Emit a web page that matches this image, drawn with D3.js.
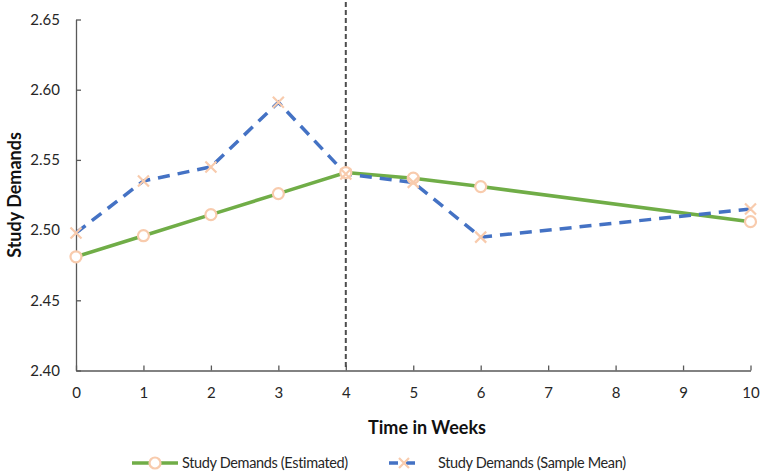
<!DOCTYPE html>
<html><head><meta charset="utf-8">
<script src="https://cdn.jsdelivr.net/npm/d3@7"></script>
<style>body{margin:0;background:#fff}svg{display:block;font-family:Lato,"Open Sans",sans-serif}</style>
</head><body><svg id="c" width="763" height="473"></svg>
<script>
const weeks = [0,1,2,3,4,5,6,10];
const estimated = [2.481,2.496,2.511,2.526,2.541,2.537,2.531,2.506];
const sampleMean = [2.498,2.535,2.545,2.591,2.540,2.534,2.495,2.515];
const xTicks = [0,1,2,3,4,5,6,7,8,9,10];
const yTicks = [2.40,2.45,2.50,2.55,2.60,2.65];
const seriesNames = ["Study Demands (Estimated)","Study Demands (Sample Mean)"];
const cutWeek = 4;

const svg = d3.select("#c");
const x = d3.scaleLinear().domain([0,10]).range([76,750.5]);
const y = d3.scaleLinear().domain([2.40,2.65]).range([370.5,19.5]);
const axisCol = "#595959", textCol = "#262626";

// axes
const gx = svg.append("g").attr("transform","translate(0,370.5)")
  .call(d3.axisBottom(x).tickValues(xTicks).tickSizeInner(-5).tickSizeOuter(0).tickPadding(17).tickFormat(d3.format("d")));
const gy = svg.append("g").attr("transform","translate(76,0)")
  .call(d3.axisLeft(y).tickValues(yTicks).tickSizeInner(-5).tickSizeOuter(0).tickPadding(16).tickFormat(d3.format(".2f")));
[gx,gy].forEach(g=>{
  g.selectAll("path,line").attr("stroke",axisCol).attr("stroke-width",1.3);
  g.selectAll("text").attr("fill",textCol).style("font-size","15px").style("font-family","Lato,'Open Sans',sans-serif");
});

// vertical dashed line
svg.append("line").attr("x1",x(cutWeek)).attr("x2",x(cutWeek)).attr("y1",2).attr("y2",370)
  .attr("stroke","#4d4d4d").attr("stroke-width",2).attr("stroke-dasharray","5,3");

const line = d3.line().x((d,i)=>x(weeks[i])).y(d=>y(d));
svg.append("path").datum(estimated).attr("d",line).attr("fill","none")
  .attr("stroke","#70AD47").attr("stroke-width",3.5);
svg.append("path").datum(sampleMean).attr("d",line).attr("fill","none")
  .attr("stroke","#4472C4").attr("stroke-width",3.5).attr("stroke-dasharray","12,8");

const mk = "#F8CBAD";
function cross(g,cx,cy,s){
  g.append("path").attr("d",`M${cx-s},${cy-s}L${cx+s},${cy+s}M${cx-s},${cy+s}L${cx+s},${cy-s}`)
   .attr("stroke",mk).attr("stroke-width",2.2).attr("fill","none");
}
svg.append("g").selectAll("circle").data(estimated).join("circle")
  .attr("cx",(d,i)=>x(weeks[i])).attr("cy",d=>y(d)).attr("r",5.5)
  .attr("fill","#fff").attr("stroke",mk).attr("stroke-width",2.2);
const gc = svg.append("g");
sampleMean.forEach((d,i)=>cross(gc,x(weeks[i]),y(d),5.5));

// titles
svg.append("text").attr("x",427).attr("y",434).attr("text-anchor","middle")
  .attr("fill","#111").style("font-weight","bold").style("font-size","18px").text("Time in Weeks");
svg.append("text").attr("transform","translate(21,195) rotate(-90)").attr("text-anchor","middle")
  .attr("fill","#111").style("font-weight","bold").style("font-size","18px").text("Study Demands");

// legend
const ly = 463;
svg.append("line").attr("x1",132).attr("x2",178).attr("y1",ly).attr("y2",ly).attr("stroke","#70AD47").attr("stroke-width",3.5);
svg.append("circle").attr("cx",155).attr("cy",ly).attr("r",5.5).attr("fill","#fff").attr("stroke",mk).attr("stroke-width",2.2);
svg.append("text").attr("x",182).attr("y",ly+5).attr("fill",textCol).style("font-size","14.5px").style("letter-spacing","-0.35px").text(seriesNames[0]);
svg.append("line").attr("x1",389).attr("x2",419).attr("y1",ly).attr("y2",ly).attr("stroke","#4472C4").attr("stroke-width",3.5).attr("stroke-dasharray","9,8");
cross(svg,404,ly,5);
svg.append("text").attr("x",438).attr("y",ly+5).attr("fill",textCol).style("font-size","14.5px").style("letter-spacing","-0.35px").text(seriesNames[1]);
</script></body></html>
